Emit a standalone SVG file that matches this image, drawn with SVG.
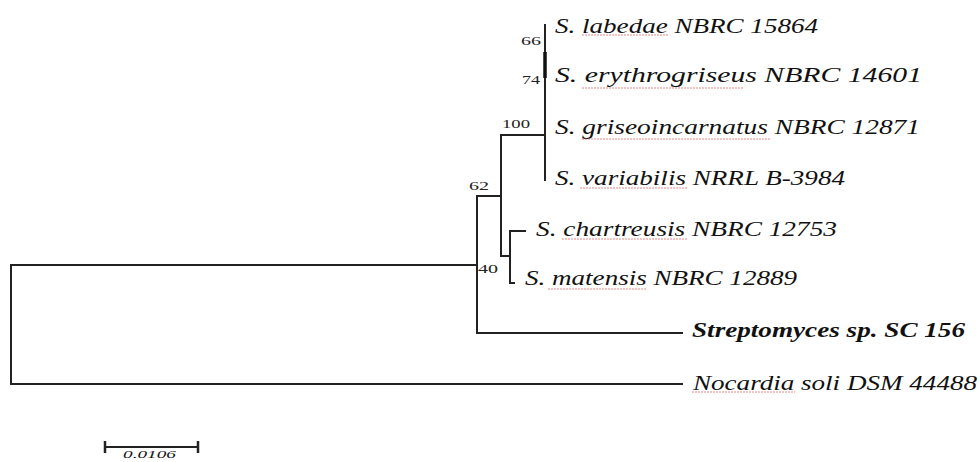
<svg xmlns="http://www.w3.org/2000/svg" width="980" height="462" viewBox="0 0 980 462">
<defs>
<style>
.br{stroke:#222;stroke-width:2;fill:none;stroke-linecap:square}
.lbl{font-family:"Liberation Serif","Times New Roman",serif;font-style:italic;font-size:21px;fill:#111}
.bold{font-weight:bold}
.bs{font-family:"Liberation Serif","Times New Roman",serif;font-size:13px;fill:#222}
.sq{stroke:#e06060;stroke-width:1;fill:none;opacity:0.75}
</style>
</defs>
<rect width="980" height="462" fill="#fff"/>
<g id="connectors">
<path class="br" d="M11,265 V384 M11,265 H477 M11,384 H682"/>
<path class="br" d="M477,196 V333 M477,333 H682 M477,196 H501"/>
<path class="br" d="M501,135 V256 M501,135 H545 M501,256 H510"/>
<path class="br" d="M510,231 V283 M510,231 H525 M510,283 H514"/>
<path class="br" d="M545,25 V180"/>
<path d="M545,52 V78" stroke="#111" stroke-width="3.5"/>
</g>
<g id="bootstrap">
<text class="bs" x="521" y="45" textLength="20" lengthAdjust="spacingAndGlyphs">66</text>
<text class="bs" x="522" y="84" textLength="18" lengthAdjust="spacingAndGlyphs">74</text>
<text class="bs" x="502" y="128" textLength="28" lengthAdjust="spacingAndGlyphs">100</text>
<text class="bs" x="469" y="190" textLength="20" lengthAdjust="spacingAndGlyphs">62</text>
<text class="bs" x="478" y="273" textLength="20" lengthAdjust="spacingAndGlyphs">40</text>
</g>
<g id="leaf-labedae">
<text class="lbl" x="555" y="33" textLength="263" lengthAdjust="spacingAndGlyphs">S. labedae NBRC 15864</text>
<path class="sq" d="M582,35 h86" stroke-dasharray="2 1"/>
</g>
<g id="leaf-erythrogriseus">
<text class="lbl" x="555" y="82" textLength="367" lengthAdjust="spacingAndGlyphs">S. erythrogriseus NBRC 14601</text>
<path class="sq" d="M582,88 h161" stroke-dasharray="2 1"/>
</g>
<g id="leaf-griseoincarnatus">
<text class="lbl" x="555" y="134" textLength="365" lengthAdjust="spacingAndGlyphs">S. griseoincarnatus NBRC 12871</text>
<path class="sq" d="M582,139 h188" stroke-dasharray="2 1"/>
</g>
<g id="leaf-variabilis">
<text class="lbl" x="555" y="185" textLength="290" lengthAdjust="spacingAndGlyphs">S. variabilis NRRL  B-3984</text>
<path class="sq" d="M580,188 h107" stroke-dasharray="2 1"/>
</g>
<g id="leaf-chartreusis">
<text class="lbl" x="536" y="236" textLength="301" lengthAdjust="spacingAndGlyphs">S. chartreusis NBRC 12753</text>
<path class="sq" d="M562,239 h126" stroke-dasharray="2 1"/>
</g>
<g id="leaf-matensis">
<text class="lbl" x="525" y="285" textLength="272" lengthAdjust="spacingAndGlyphs">S. matensis NBRC 12889</text>
<path class="sq" d="M548,289 h99" stroke-dasharray="2 1"/>
</g>
<g id="leaf-sc156">
<text class="lbl bold" x="692" y="337" textLength="273" lengthAdjust="spacingAndGlyphs">Streptomyces sp. SC 156</text>
</g>
<g id="leaf-nocardia">
<text class="lbl" x="693" y="390" textLength="284" lengthAdjust="spacingAndGlyphs">Nocardia soli DSM 44488</text>
<path class="sq" d="M692,392 h103" stroke-dasharray="2 1"/>
</g>
<g id="scale-bar">
<path class="br" d="M105,447 H198" stroke-linecap="butt"/>
<path d="M105,441 V453 M198,441 V453" stroke="#222" stroke-width="2.5"/>
<text class="lbl" style="font-size:11px" x="123" y="458" textLength="53" lengthAdjust="spacingAndGlyphs">0.0106</text>
</g>
</svg>
